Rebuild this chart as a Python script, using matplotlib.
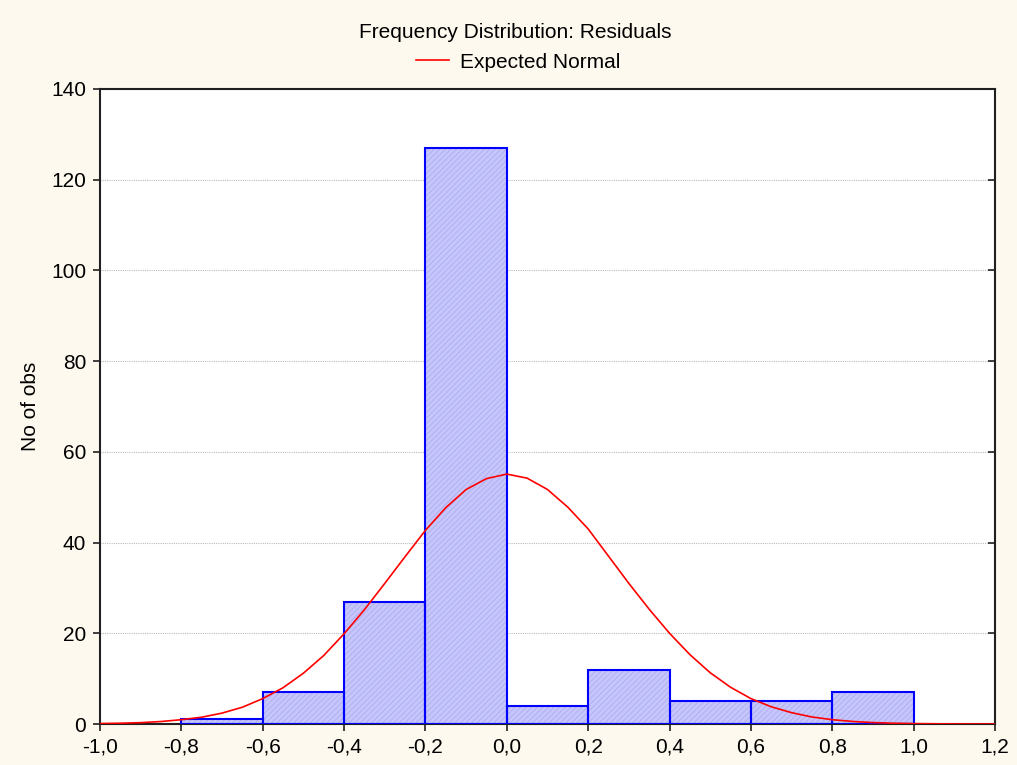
import matplotlib
matplotlib.use("Agg")
import matplotlib.pyplot as plt
from matplotlib.ticker import FuncFormatter, MultipleLocator
from matplotlib.lines import TICKLEFT

# Histogram data (bin edges, counts)
bin_left = [-0.8, -0.6, -0.4, -0.2, 0.0, 0.2, 0.4, 0.6, 0.8]
bin_width = 0.2
counts = [1, 7, 27, 127, 4, 12, 5, 5, 7]

# Expected normal curve
curve_x = [-1.0, -0.95, -0.9, -0.85, -0.8, -0.75, -0.7, -0.65, -0.6, -0.55,
           -0.5, -0.45, -0.4, -0.35, -0.3, -0.25, -0.2, -0.15, -0.1, -0.05,
           0.0, 0.05, 0.1, 0.15, 0.2, 0.25, 0.3, 0.35, 0.4, 0.45,
           0.5, 0.55, 0.6, 0.65, 0.7, 0.75, 0.8, 0.85, 0.9, 0.95,
           1.0, 1.05, 1.1, 1.15, 1.2]
curve_y = [0.1, 0.17, 0.3, 0.55, 0.95, 1.5, 2.4, 3.7, 5.6, 8.0,
           11.2, 15.1, 19.9, 25.2, 31.0, 36.9, 42.7, 47.7, 51.7, 54.1,
           55.1, 54.2, 51.7, 47.8, 43.0, 37.0, 31.0, 25.3, 20.0, 15.3,
           11.3, 8.1, 5.6, 3.8, 2.5, 1.55, 0.95, 0.56, 0.32, 0.17,
           0.09, 0.05, 0.02, 0.01, 0.005]

title = "Frequency Distribution: Residuals"
legend_label = "Expected Normal"
ylabel = "No of obs"

plt.rcParams['font.family'] = ['Liberation Sans', 'DejaVu Sans']
plt.rcParams['hatch.linewidth'] = 0.5

bg = '#fdf9ee'
fs = 15
fig = plt.figure(figsize=(10.17, 7.65), dpi=100, facecolor=bg)
ax = fig.add_axes([100/1017, 1-724/765, (995-100)/1017, (724-89)/765])
ax.set_facecolor('white')

ax.set_xlim(-1.0, 1.2)
ax.set_ylim(0, 140)

ax.yaxis.set_major_locator(MultipleLocator(20))
ax.xaxis.set_major_locator(MultipleLocator(0.2))
ax.grid(axis='y', color='#bbbbbb', linestyle=(0, (1, 1)), linewidth=0.8, zorder=0)
ax.set_axisbelow(True)

ax.bar(bin_left, counts, width=bin_width, align='edge', color='#c6c6fc',
       edgecolor='#a8a8f0', hatch='//////', linewidth=0, zorder=2)
ax.bar(bin_left, counts, width=bin_width, align='edge', fill=False,
       edgecolor='#0000ff', linewidth=1.5, zorder=3)

line, = ax.plot(curve_x, curve_y, color='#ff0000', linewidth=1.2, zorder=4,
                label=legend_label)

ax.xaxis.set_major_formatter(FuncFormatter(lambda v, p: f"{v:.1f}".replace('.', ',').replace('-0,0', '0,0')))
ax.yaxis.set_major_formatter(FuncFormatter(lambda v, p: f"{int(round(v))}"))

for s in ax.spines.values():
    s.set_color('#202020')
    s.set_linewidth(1.5)

ax.tick_params(axis='both', which='major', labelsize=fs, length=5, width=1.2,
               color='#202020', direction='out', pad=5)
ax.tick_params(axis='y', which='major', right=True)
fig.canvas.draw()
for t in ax.yaxis.get_major_ticks():
    t.tick2line.set_marker(TICKLEFT)

ax.set_ylabel(ylabel, fontsize=fs)
ax.yaxis.set_label_coords(-60/895, 0.5)

fig.text(515/1017, 1-32/765, title, ha='center', va='center', fontsize=fs)
fig.legend(handles=[line], labels=[legend_label], loc='center',
           bbox_to_anchor=(518/1017, 1-62/765), frameon=False, fontsize=fs,
           handlelength=1.6, handletextpad=0.5)

fig.savefig('out.png', dpi=100, facecolor=bg)
